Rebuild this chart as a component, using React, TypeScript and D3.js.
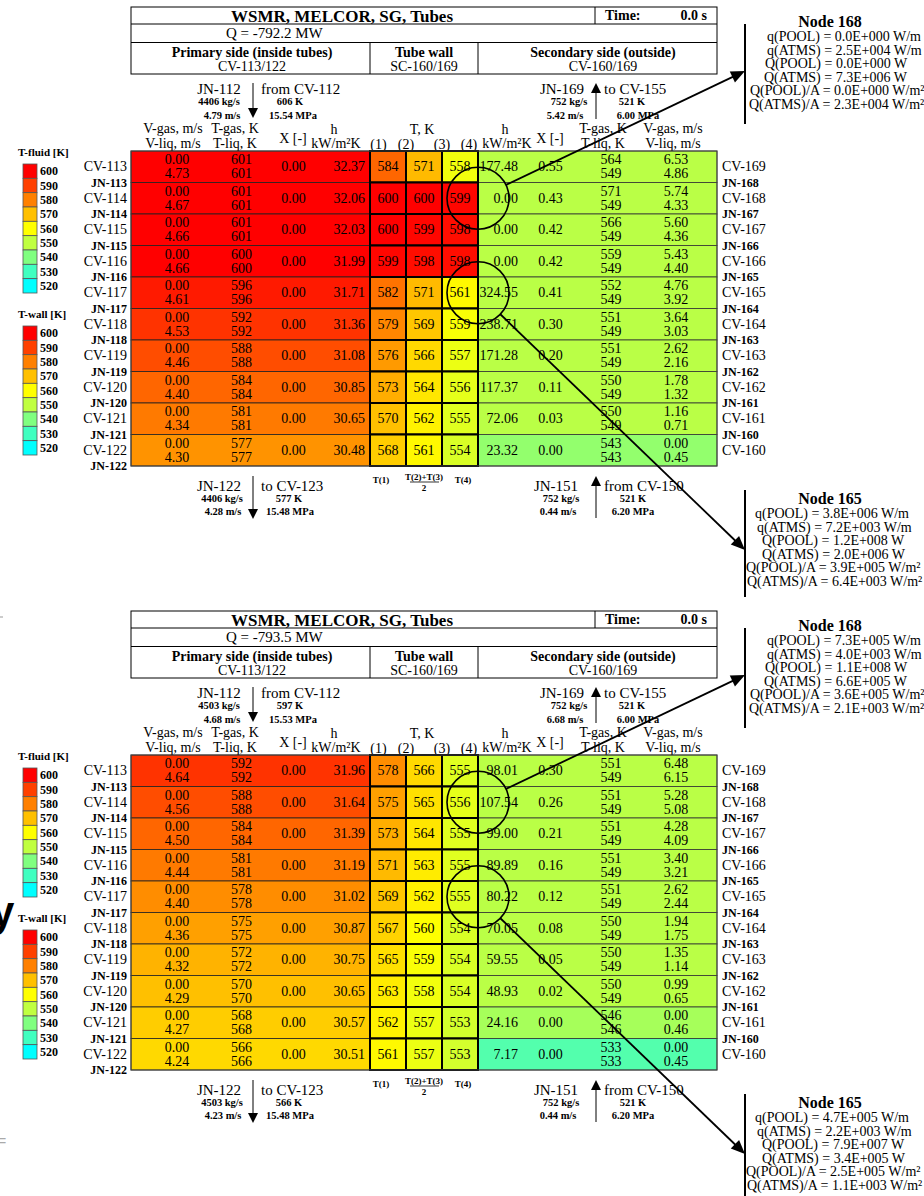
import React from 'react';
import * as d3 from 'd3';

// ---------- shared labels ----------
const leftCV = ['CV-113', 'CV-114', 'CV-115', 'CV-116', 'CV-117', 'CV-118', 'CV-119', 'CV-120', 'CV-121', 'CV-122'];
const leftJN = ['JN-113', 'JN-114', 'JN-115', 'JN-116', 'JN-117', 'JN-118', 'JN-119', 'JN-120', 'JN-121', 'JN-122'];
const rightCV = ['CV-169', 'CV-168', 'CV-167', 'CV-166', 'CV-165', 'CV-164', 'CV-163', 'CV-162', 'CV-161', 'CV-160'];
const rightJN = ['JN-168', 'JN-167', 'JN-166', 'JN-165', 'JN-164', 'JN-163', 'JN-162', 'JN-161', 'JN-160'];
const legendTemps = [600, 590, 580, 570, 560, 550, 540, 530, 520];
const legendColors = ['#FF0000', '#FF4000', '#FF8000', '#FFC000', '#FFFF00', '#C0FF40', '#80FF80', '#40FFC0', '#00FFFF'];
const nodeLabels = ['q(POOL) = ', 'q(ATMS) = ', 'Q(POOL) = ', 'Q(ATMS) = ', 'Q(POOL)/A = ', 'Q(ATMS)/A = '];
const nodeUnits = [' W/m', ' W/m', ' W', ' W', ' W/m²', ' W/m²'];

// ---------- panel 1 (top) ----------
const p1Q = '-792.2';
const p1Time = '0.0';
const p1In = ['4406', '606', '4.79', '15.54'];
const p1Out = ['4406', '577', '4.28', '15.48'];
const p1SecOut = ['752', '521', '5.42', '6.00'];
const p1SecIn = ['752', '521', '0.44', '6.20'];
const p1VGas = [0, 0, 0, 0, 0, 0, 0, 0, 0, 0];
const p1VLiq = [4.73, 4.67, 4.66, 4.66, 4.61, 4.53, 4.46, 4.40, 4.34, 4.30];
const p1TGas = [601, 601, 601, 600, 596, 592, 588, 584, 581, 577];
const p1TLiq = [601, 601, 601, 600, 596, 592, 588, 584, 581, 577];
const p1X = [0, 0, 0, 0, 0, 0, 0, 0, 0, 0];
const p1H = [32.37, 32.06, 32.03, 31.99, 31.71, 31.36, 31.08, 30.85, 30.65, 30.48];
const p1T1 = [584, 600, 600, 599, 582, 579, 576, 573, 570, 568];
const p1T23 = [571, 600, 599, 598, 571, 569, 566, 564, 562, 561];
const p1T4 = [558, 599, 598, 598, 561, 559, 557, 556, 555, 554];
const p1sH = [177.48, 0.00, 0.00, 0.00, 324.55, 238.71, 171.28, 117.37, 72.06, 23.32];
const p1sX = [0.55, 0.43, 0.42, 0.42, 0.41, 0.30, 0.20, 0.11, 0.03, 0.00];
const p1sTGas = [564, 571, 566, 559, 552, 551, 551, 550, 550, 543];
const p1sTLiq = [549, 549, 549, 549, 549, 549, 549, 549, 549, 543];
const p1sVGas = [6.53, 5.74, 5.60, 5.43, 4.76, 3.64, 2.62, 1.78, 1.16, 0.00];
const p1sVLiq = [4.86, 4.33, 4.36, 4.40, 3.92, 3.03, 2.16, 1.32, 0.71, 0.45];
const p1Node168 = ['0.0E+000', '2.5E+004', '0.0E+000', '7.3E+006', '0.0E+000', '2.3E+004'];
const p1Node165 = ['3.8E+006', '7.2E+003', '1.2E+008', '2.0E+006', '3.9E+005', '6.4E+003'];

// ---------- panel 2 (bottom) ----------
const p2Q = '-793.5';
const p2Time = '0.0';
const p2In = ['4503', '597', '4.68', '15.53'];
const p2Out = ['4503', '566', '4.23', '15.48'];
const p2SecOut = ['752', '521', '6.68', '6.00'];
const p2SecIn = ['752', '521', '0.44', '6.20'];
const p2VGas = [0, 0, 0, 0, 0, 0, 0, 0, 0, 0];
const p2VLiq = [4.64, 4.56, 4.50, 4.44, 4.40, 4.36, 4.32, 4.29, 4.27, 4.24];
const p2TGas = [592, 588, 584, 581, 578, 575, 572, 570, 568, 566];
const p2TLiq = [592, 588, 584, 581, 578, 575, 572, 570, 568, 566];
const p2X = [0, 0, 0, 0, 0, 0, 0, 0, 0, 0];
const p2H = [31.96, 31.64, 31.39, 31.19, 31.02, 30.87, 30.75, 30.65, 30.57, 30.51];
const p2T1 = [578, 575, 573, 571, 569, 567, 565, 563, 562, 561];
const p2T23 = [566, 565, 564, 563, 562, 560, 559, 558, 557, 557];
const p2T4 = [555, 556, 555, 555, 555, 554, 554, 554, 553, 553];
const p2sH = [98.01, 107.54, 99.00, 89.89, 80.22, 70.05, 59.55, 48.93, 24.16, 7.17];
const p2sX = [0.30, 0.26, 0.21, 0.16, 0.12, 0.08, 0.05, 0.02, 0.00, 0.00];
const p2sTGas = [551, 551, 551, 551, 551, 550, 550, 550, 546, 533];
const p2sTLiq = [549, 549, 549, 549, 549, 549, 549, 549, 546, 533];
const p2sVGas = [6.48, 5.28, 4.28, 3.40, 2.62, 1.94, 1.35, 0.99, 0.00, 0.00];
const p2sVLiq = [6.15, 5.08, 4.09, 3.21, 2.44, 1.75, 1.14, 0.65, 0.46, 0.45];
const p2Node168 = ['7.3E+005', '4.0E+003', '1.1E+008', '6.6E+005', '3.6E+005', '2.1E+003'];
const p2Node165 = ['4.7E+005', '2.2E+003', '7.9E+007', '3.4E+005', '2.5E+005', '1.1E+003'];

const panels = [
  { off: 0, Q: p1Q, time: p1Time, inF: p1In, outF: p1Out, secOut: p1SecOut, secIn: p1SecIn,
    vg: p1VGas, vl: p1VLiq, tg: p1TGas, tl: p1TLiq, x: p1X, h: p1H, t1: p1T1, t23: p1T23, t4: p1T4,
    sh: p1sH, sx: p1sX, stg: p1sTGas, stl: p1sTLiq, svg: p1sVGas, svl: p1sVLiq, n168: p1Node168, n165: p1Node165 },
  { off: 604, Q: p2Q, time: p2Time, inF: p2In, outF: p2Out, secOut: p2SecOut, secIn: p2SecIn,
    vg: p2VGas, vl: p2VLiq, tg: p2TGas, tl: p2TLiq, x: p2X, h: p2H, t1: p2T1, t23: p2T23, t4: p2T4,
    sh: p2sH, sx: p2sX, stg: p2sTGas, stl: p2sTLiq, svg: p2sVGas, svl: p2sVLiq, n168: p2Node168, n165: p2Node165 },
];

const SERIF = "'Liberation Serif', 'Times New Roman', serif";
const tempColor = d3.scaleLinear<string>()
  .domain(legendTemps.slice().reverse())
  .range(legendColors.slice().reverse())
  .interpolate(d3.interpolateRgb)
  .clamp(true);

const X0 = 131, XW1 = 370, XW2 = 406, XW3 = 442, XW4 = 478, X1 = 717;
const f2 = d3.format('.2f');

function T(props: any) {
  const { x, y, s = 14, b = false, a = 'middle', fill = '#000', children, ff = SERIF } = props;
  return (
    <text x={x} y={y} fontSize={s} fontWeight={b ? 'bold' : 'normal'} textAnchor={a}
      dominantBaseline="central" fontFamily={ff} fill={fill}>{children}</text>
  );
}

function Arrow({ x1, y1, x2, y2, w = 1.8, head = 13, hw = 5 }: any) {
  const dx = x2 - x1, dy = y2 - y1;
  const L = Math.hypot(dx, dy);
  const ux = dx / L, uy = dy / L;
  const bx = x2 - ux * head, by = y2 - uy * head;
  const pts = [[x2, y2], [bx - uy * hw, by + ux * hw], [bx + uy * hw, by - ux * hw]];
  return (
    <g>
      <line x1={x1} y1={y1} x2={bx + ux * 1} y2={by + uy * 1} stroke="#000" strokeWidth={w} />
      <polygon points={pts.map(p => p.join(',')).join(' ')} fill="#000" />
    </g>
  );
}

function Legend({ y0, title }: any) {
  const ys = d3.scaleLinear().domain([0, legendTemps.length]).range([y0 + 12, y0 + 141]);
  return (
    <g>
      <T x={18} y={y0} s={11} b a="start">{title}</T>
      {legendTemps.map((t, i) => (
        <g key={t}>
          <rect x={23} y={ys(i)} width={14} height={ys(i + 1) - ys(i)} fill={tempColor(t)} stroke="#555" strokeWidth={0.8} />
          <T x={40} y={(ys(i) + ys(i + 1)) / 2} s={12} b a="start">{t}</T>
        </g>
      ))}
    </g>
  );
}

function NodeBox({ x, yTitle, name, vals, starts, yTop, yBot }: any) {
  return (
    <g>
      <line x1={x} y1={yTop} x2={x} y2={yBot} stroke="#000" strokeWidth={2} />
      <T x={830} y={yTitle} s={16} b>{name}</T>
      {vals.map((v: string, i: number) => (
        <T key={i} x={starts[i]} y={yTitle + 15.5 + i * 13.6} s={14} a="start">{nodeLabels[i] + v + nodeUnits[i]}</T>
      ))}
    </g>
  );
}

function Panel({ p }: any) {
  const o = p.off;
  const yR = d3.scaleLinear().domain([0, 10]).range([151 + o, 466 + o]);
  const rows = d3.range(10);
  const c1 = { x: 478, y: (yR(1) + yR(2)) / 2, r: 31 };
  const c2 = { x: 478, y: (yR(4) + yR(5)) / 2, r: 31 };
  const tip1 = { x: 745, y: 71 + o };
  const tip2 = { x: 745, y: 550 + o };
  const edge = (c: any, t: any) => {
    const dx = t.x - c.x, dy = t.y - c.y, L = Math.hypot(dx, dy);
    return { x: c.x + c.r * dx / L, y: c.y + c.r * dy / L };
  };
  const e1 = edge(c1, tip1), e2 = edge(c2, tip2);
  return (
    <g>
      {/* title box */}
      <g fill="none" stroke="#000" strokeWidth={1}>
        <rect x={X0} y={7 + o} width={X1 - X0} height={67} />
        <line x1={X0} y1={24 + o} x2={X1} y2={24 + o} />
        <line x1={X0} y1={42.5 + o} x2={X1} y2={42.5 + o} />
        <line x1={595} y1={7 + o} x2={595} y2={24 + o} />
        <line x1={XW1} y1={42.5 + o} x2={XW1} y2={74 + o} />
        <line x1={XW4} y1={42.5 + o} x2={XW4} y2={74 + o} />
      </g>
      <T x={342} y={16 + o} s={17} b>WSMR, MELCOR, SG, Tubes</T>
      <T x={605} y={15.5 + o} s={14} b a="start">Time:</T>
      <T x={707} y={15.5 + o} s={14} b a="end">{p.time + ' s'}</T>
      <T x={226} y={33 + o} s={15} a="start">{'Q = ' + p.Q + ' MW'}</T>
      <T x={252} y={52 + o} s={14} b>Primary side (inside tubes)</T>
      <T x={252} y={66.5 + o} s={14}>CV-113/122</T>
      <T x={424} y={52 + o} s={14} b>Tube wall</T>
      <T x={424} y={66.5 + o} s={14}>SC-160/169</T>
      <T x={603} y={52 + o} s={14} b>Secondary side (outside)</T>
      <T x={603} y={66.5 + o} s={14}>CV-160/169</T>

      {/* primary inflow */}
      <T x={219} y={89 + o} s={15}>JN-112</T>
      <T x={261} y={89 + o} s={15} a="start">from CV-112</T>
      <T x={219} y={101 + o} s={10.5} b>{p.inF[0] + ' kg/s'}</T>
      <T x={290} y={101 + o} s={10.5} b>{p.inF[1] + ' K'}</T>
      <T x={222} y={115 + o} s={10.5} b>{p.inF[2] + ' m/s'}</T>
      <T x={293} y={115 + o} s={10.5} b>{p.inF[3] + ' MPa'}</T>
      <Arrow x1={253} y1={83 + o} x2={253} y2={118 + o} w={1} head={10} hw={5} />
      {/* secondary outflow */}
      <T x={562} y={89 + o} s={15}>JN-169</T>
      <T x={604} y={89 + o} s={15} a="start">to CV-155</T>
      <T x={569} y={101 + o} s={10.5} b>{p.secOut[0] + ' kg/s'}</T>
      <T x={632} y={101 + o} s={10.5} b>{p.secOut[1] + ' K'}</T>
      <T x={565} y={115 + o} s={10.5} b>{p.secOut[2] + ' m/s'}</T>
      <T x={638} y={115 + o} s={10.5} b>{p.secOut[3] + ' MPa'}</T>
      <Arrow x1={596} y1={119 + o} x2={596} y2={83 + o} w={1} head={10} hw={5} />

      {/* column headers */}
      <T x={173} y={128 + o}>V-gas, m/s</T>
      <T x={173} y={143 + o}>V-liq, m/s</T>
      <T x={235} y={128 + o}>T-gas, K</T>
      <T x={235} y={143 + o}>T-liq, K</T>
      <T x={293} y={138 + o}>X [-]</T>
      <T x={334} y={129 + o}>h</T>
      <T x={336} y={143 + o}>kW/m²K</T>
      <T x={422} y={129 + o}>T, K</T>
      <T x={378.5} y={144 + o}>(1)</T>
      <T x={406} y={144 + o}>(2)</T>
      <T x={442} y={144 + o}>(3)</T>
      <T x={469} y={144 + o}>(4)</T>
      <T x={505} y={129 + o}>h</T>
      <T x={507} y={143 + o}>kW/m²K</T>
      <T x={550} y={138 + o}>X [-]</T>
      <T x={603} y={128 + o}>T-gas, K</T>
      <T x={603} y={143 + o}>T-liq, K</T>
      <T x={673} y={128 + o}>V-gas, m/s</T>
      <T x={673} y={143 + o}>V-liq, m/s</T>

      {/* rows */}
      {rows.map(i => {
        const y0 = yR(i), y1 = yR(i + 1), ym = (y0 + y1) / 2;
        return (
          <g key={i}>
            <rect x={X0} y={y0} width={XW1 - X0} height={y1 - y0} fill={tempColor(p.tl[i])} stroke="#222" strokeWidth={0.8} />
            <rect x={XW4} y={y0} width={X1 - XW4} height={y1 - y0} fill={tempColor(p.stl[i])} stroke="#333" strokeWidth={0.8} />
            <T x={177} y={ym - 6.8}>{f2(p.vg[i])}</T>
            <T x={177} y={ym + 6.8}>{f2(p.vl[i])}</T>
            <T x={241.5} y={ym - 6.8}>{p.tg[i]}</T>
            <T x={241.5} y={ym + 6.8}>{p.tl[i]}</T>
            <T x={293.5} y={ym}>{f2(p.x[i])}</T>
            <T x={365} y={ym} a="end">{f2(p.h[i])}</T>
            <T x={518} y={ym} a="end">{f2(p.sh[i])}</T>
            <T x={550.5} y={ym}>{f2(p.sx[i])}</T>
            <T x={611} y={ym - 6.8}>{p.stg[i]}</T>
            <T x={611} y={ym + 6.8}>{p.stl[i]}</T>
            <T x={676} y={ym - 6.8}>{f2(p.svg[i])}</T>
            <T x={676} y={ym + 6.8}>{f2(p.svl[i])}</T>
            <T x={127} y={ym} a="end">{leftCV[i]}</T>
            <T x={127} y={y1} s={12} b a="end">{leftJN[i]}</T>
            <T x={722} y={ym} a="start">{rightCV[i]}</T>
            {i < 9 && <T x={722} y={y1} s={12} b a="start">{rightJN[i]}</T>}
          </g>
        );
      })}
      {/* wall cells */}
      {rows.map(i => {
        const y0 = yR(i), y1 = yR(i + 1), ym = (y0 + y1) / 2;
        const cells = [[XW1, XW2, p.t1[i]], [XW2, XW3, p.t23[i]], [XW3, XW4, p.t4[i]]];
        return (
          <g key={'w' + i}>
            {cells.map(([a, b, t], k) => (
              <g key={k}>
                <rect x={a} y={y0} width={b - a} height={y1 - y0} fill={tempColor(t)} stroke="#000" strokeWidth={2} />
                <T x={(a + b) / 2} y={ym}>{t}</T>
              </g>
            ))}
          </g>
        );
      })}

      {/* wall sub labels */}
      <T x={381} y={480 + o} s={9} b>T(1)</T>
      <T x={424} y={477 + o} s={9} b>T(2)+T(3)</T>
      <line x1={410} y1={482 + o} x2={439} y2={482 + o} stroke="#000" strokeWidth={0.8} />
      <T x={424} y={488 + o} s={9} b>2</T>
      <T x={463} y={480 + o} s={9} b>T(4)</T>

      {/* primary outflow */}
      <T x={219} y={486 + o} s={15}>JN-122</T>
      <T x={261} y={486 + o} s={15} a="start">to CV-123</T>
      <T x={222} y={498 + o} s={10.5} b>{p.outF[0] + ' kg/s'}</T>
      <T x={289} y={498 + o} s={10.5} b>{p.outF[1] + ' K'}</T>
      <T x={223} y={511 + o} s={10.5} b>{p.outF[2] + ' m/s'}</T>
      <T x={290} y={511 + o} s={10.5} b>{p.outF[3] + ' MPa'}</T>
      <Arrow x1={253} y1={476 + o} x2={253} y2={519 + o} w={1} head={10} hw={5} />
      {/* secondary inflow */}
      <T x={556} y={486 + o} s={15}>JN-151</T>
      <T x={604} y={486 + o} s={15} a="start">from CV-150</T>
      <T x={561} y={498 + o} s={10.5} b>{p.secIn[0] + ' kg/s'}</T>
      <T x={633} y={498 + o} s={10.5} b>{p.secIn[1] + ' K'}</T>
      <T x={558} y={511 + o} s={10.5} b>{p.secIn[2] + ' m/s'}</T>
      <T x={633} y={511 + o} s={10.5} b>{p.secIn[3] + ' MPa'}</T>
      <Arrow x1={596} y1={518 + o} x2={596} y2={476 + o} w={1} head={10} hw={5} />

      {/* outer table border */}
      <rect x={X0} y={yR(0)} width={X1 - X0} height={yR(10) - yR(0)} fill="none" stroke="#444" strokeWidth={1} />

      {/* circles + callouts */}
      <circle cx={c1.x} cy={c1.y} r={c1.r} fill="none" stroke="#000" strokeWidth={1.6} />
      <circle cx={c2.x} cy={c2.y} r={c2.r} fill="none" stroke="#000" strokeWidth={1.6} />
      <Arrow x1={e1.x} y1={e1.y} x2={tip1.x} y2={tip1.y} w={1.8} head={14} hw={6} />
      <Arrow x1={e2.x} y1={e2.y} x2={tip2.x} y2={tip2.y} w={1.8} head={14} hw={6} />

      <NodeBox x={745} yTitle={21 + o} name="Node 168" vals={p.n168}
        starts={[767, 767, 765, 764, 750, 749]} yTop={24 + o} yBot={124 + o} />
      <NodeBox x={745} yTitle={498 + o} name="Node 165" vals={p.n165}
        starts={[755, 757, 762, 762, 746, 747]} yTop={490 + o} yBot={597 + o} />

      <Legend y0={152 + o} title="T-fluid [K]" />
      <Legend y0={314 + o} title="T-wall [K]" />
    </g>
  );
}

export default function App() {
  return (
    <div style={{ position: 'absolute', left: 0, top: 0, width: 924, height: 1196, overflow: 'hidden', background: '#fff' }}>
      <svg width={924} height={1196} style={{ display: 'block' }}>
        <rect x={0} y={0} width={924} height={1196} fill="#fff" />
        {panels.map((p, i) => <Panel key={i} p={p} />)}
        {/* cropped fragments at the left edge */}
        <line x1={0} y1={617} x2={3} y2={617} stroke="#999" strokeWidth={1} />
        <text x={-9} y={926} fontSize={42} fontWeight="bold" fontFamily="'Liberation Sans', Arial, sans-serif" fill="#000">y</text>
        <text x={-3} y={1146} fontSize={16} fontFamily="'Liberation Sans', Arial, sans-serif" fill="#aaa">=</text>
      </svg>
    </div>
  );
}
